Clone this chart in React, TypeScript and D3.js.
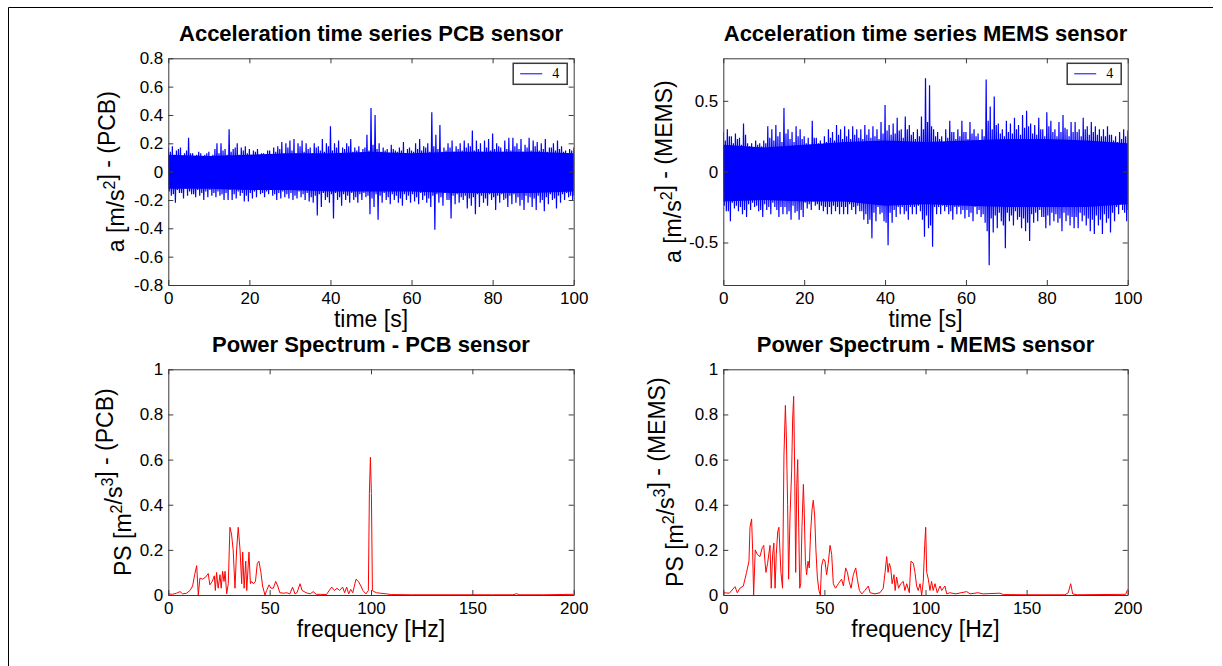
import React, { useEffect, useRef } from "react";
import * as d3 from "d3";

// time axis, one envelope bin per second [s]
const timeSec = d3.range(0, 101);
// the dense middle of each trace, read every 10 s
const coreTime = [0, 10, 20, 30, 40, 50, 60, 70, 80, 90, 100];

// PCB sensor, highest / lowest value in each 1 s bin [m/s^2]
const pcbHigh = [
  0.17, 0.18, 0.15, 0.17, 0.13, 0.24, 0.13, 0.12, 0.13, 0.12,
  0.14, 0.12, 0.2, 0.2, 0.16, 0.3, 0.16, 0.2, 0.17, 0.18,
  0.16, 0.15, 0.16, 0.13, 0.12, 0.15, 0.17, 0.18, 0.21, 0.2,
  0.22, 0.23, 0.2, 0.22, 0.2, 0.17, 0.2, 0.18, 0.23, 0.2,
  0.32, 0.2, 0.22, 0.17, 0.2, 0.23, 0.17, 0.18, 0.16, 0.26,
  0.45, 0.4, 0.2, 0.17, 0.16, 0.19, 0.15, 0.17, 0.21, 0.16,
  0.15, 0.2, 0.23, 0.18, 0.2, 0.42, 0.26, 0.33, 0.17, 0.2,
  0.22, 0.18, 0.2, 0.22, 0.2, 0.29, 0.22, 0.2, 0.22, 0.23,
  0.27, 0.2, 0.17, 0.22, 0.24, 0.24, 0.2, 0.23, 0.19, 0.24,
  0.22, 0.21, 0.2, 0.23, 0.17, 0.2, 0.22, 0.18, 0.15, 0.16, 0.17,
];
const pcbLow = [
  -0.17, -0.22, -0.15, -0.19, -0.17, -0.16, -0.18, -0.17, -0.2, -0.18,
  -0.17, -0.18, -0.17, -0.2, -0.2, -0.2, -0.19, -0.17, -0.21, -0.21,
  -0.19, -0.18, -0.16, -0.18, -0.16, -0.17, -0.2, -0.19, -0.18, -0.19,
  -0.2, -0.19, -0.18, -0.2, -0.21, -0.22, -0.31, -0.25, -0.2, -0.22,
  -0.33, -0.2, -0.24, -0.2, -0.22, -0.2, -0.22, -0.2, -0.18, -0.3,
  -0.25, -0.34, -0.22, -0.2, -0.23, -0.2, -0.22, -0.24, -0.2, -0.22,
  -0.21, -0.23, -0.2, -0.22, -0.25, -0.41, -0.22, -0.24, -0.2, -0.33,
  -0.23, -0.22, -0.2, -0.26, -0.24, -0.3, -0.25, -0.22, -0.24, -0.2,
  -0.27, -0.22, -0.2, -0.25, -0.23, -0.22, -0.24, -0.27, -0.22, -0.25,
  -0.27, -0.22, -0.28, -0.23, -0.2, -0.26, -0.22, -0.2, -0.18, -0.2, -0.17,
];
// PCB sensor, second swing in each 1 s bin
const pcbMidHigh = [
  0.14, 0.12, 0.16, 0.11, 0.15, 0.13, 0.11, 0.14, 0.1, 0.13,
  0.11, 0.16, 0.13, 0.15, 0.12, 0.14, 0.17, 0.12, 0.15, 0.13,
  0.12, 0.14, 0.11, 0.13, 0.15, 0.12, 0.14, 0.16, 0.13, 0.17,
  0.15, 0.13, 0.18, 0.14, 0.16, 0.13, 0.17, 0.15, 0.14, 0.18,
  0.15, 0.17, 0.13, 0.16, 0.18, 0.14, 0.15, 0.13, 0.17, 0.15,
  0.19, 0.16, 0.14, 0.15, 0.13, 0.16, 0.14, 0.15, 0.13, 0.17,
  0.14, 0.16, 0.15, 0.17, 0.14, 0.18, 0.16, 0.14, 0.15, 0.17,
  0.14, 0.16, 0.15, 0.17, 0.18, 0.15, 0.16, 0.14, 0.17, 0.15,
  0.16, 0.18, 0.14, 0.16, 0.15, 0.18, 0.16, 0.14, 0.17, 0.15,
  0.18, 0.15, 0.16, 0.14, 0.17, 0.15, 0.16, 0.14, 0.13, 0.15, 0.14,
];
const pcbMidLow = [
  -0.14, -0.16, -0.13, -0.15, -0.12, -0.14, -0.16, -0.13, -0.15, -0.14,
  -0.13, -0.15, -0.14, -0.16, -0.15, -0.13, -0.16, -0.14, -0.15, -0.17,
  -0.15, -0.14, -0.13, -0.15, -0.14, -0.13, -0.16, -0.15, -0.14, -0.16,
  -0.15, -0.17, -0.14, -0.16, -0.15, -0.18, -0.17, -0.16, -0.15, -0.18,
  -0.16, -0.15, -0.18, -0.16, -0.17, -0.15, -0.18, -0.16, -0.15, -0.17,
  -0.19, -0.16, -0.17, -0.15, -0.18, -0.16, -0.17, -0.19, -0.16, -0.17,
  -0.16, -0.18, -0.15, -0.17, -0.19, -0.17, -0.16, -0.18, -0.15, -0.2,
  -0.17, -0.16, -0.18, -0.17, -0.19, -0.18, -0.16, -0.17, -0.19, -0.16,
  -0.18, -0.17, -0.16, -0.19, -0.17, -0.16, -0.18, -0.2, -0.17, -0.18,
  -0.19, -0.17, -0.2, -0.18, -0.16, -0.19, -0.17, -0.16, -0.15, -0.17, -0.15,
];
const pcbCoreHigh = [0.12, 0.11, 0.12, 0.13, 0.13, 0.14, 0.13, 0.14, 0.14, 0.14, 0.13];
const pcbCoreLow = [-0.12, -0.12, -0.13, -0.13, -0.14, -0.14, -0.14, -0.15, -0.15, -0.15, -0.14];

// MEMS sensor, highest / lowest value in each 1 s bin [m/s^2]
const memsHigh = [
  0.28, 0.3, 0.25, 0.27, 0.24, 0.34, 0.2, 0.2, 0.22, 0.2,
  0.22, 0.32, 0.3, 0.33, 0.28, 0.45, 0.3, 0.28, 0.32, 0.3,
  0.25, 0.24, 0.36, 0.24, 0.22, 0.25, 0.3, 0.28, 0.33, 0.3,
  0.32, 0.3, 0.32, 0.3, 0.3, 0.33, 0.3, 0.32, 0.3, 0.35,
  0.47, 0.33, 0.34, 0.38, 0.3, 0.39, 0.33, 0.28, 0.3, 0.39,
  0.66, 0.61, 0.3, 0.28, 0.25, 0.3, 0.36, 0.28, 0.3, 0.36,
  0.28, 0.35, 0.3, 0.27, 0.3, 0.65, 0.46, 0.53, 0.34, 0.3,
  0.36, 0.34, 0.38, 0.33, 0.4, 0.43, 0.34, 0.33, 0.38, 0.3,
  0.42, 0.36, 0.3, 0.35, 0.4, 0.3, 0.35, 0.35, 0.3, 0.38,
  0.32, 0.35, 0.32, 0.3, 0.3, 0.32, 0.26, 0.25, 0.28, 0.3, 0.29,
];
const memsLow = [
  -0.28, -0.35, -0.26, -0.28, -0.3, -0.32, -0.27, -0.25, -0.28, -0.32,
  -0.27, -0.3, -0.25, -0.32, -0.3, -0.3, -0.34, -0.29, -0.34, -0.32,
  -0.26, -0.27, -0.24, -0.27, -0.28, -0.3, -0.3, -0.28, -0.3, -0.3,
  -0.3, -0.27, -0.3, -0.28, -0.34, -0.37, -0.47, -0.35, -0.3, -0.35,
  -0.52, -0.36, -0.32, -0.3, -0.3, -0.34, -0.3, -0.3, -0.28, -0.46,
  -0.4, -0.53, -0.3, -0.3, -0.28, -0.3, -0.34, -0.3, -0.3, -0.33,
  -0.32, -0.35, -0.3, -0.32, -0.36, -0.66, -0.43, -0.4, -0.35, -0.54,
  -0.35, -0.38, -0.34, -0.4, -0.42, -0.49, -0.36, -0.35, -0.32, -0.4,
  -0.38, -0.35, -0.36, -0.42, -0.35, -0.38, -0.4, -0.4, -0.35, -0.38,
  -0.42, -0.44, -0.38, -0.44, -0.36, -0.43, -0.35, -0.3, -0.27, -0.35, -0.27,
];
// MEMS sensor, second swing in each 1 s bin
const memsMidHigh = [
  0.22, 0.25, 0.2, 0.23, 0.19, 0.26, 0.18, 0.17, 0.19, 0.18,
  0.2, 0.24, 0.22, 0.25, 0.21, 0.27, 0.23, 0.21, 0.25, 0.23,
  0.2, 0.19, 0.24, 0.2, 0.19, 0.21, 0.24, 0.22, 0.26, 0.23,
  0.25, 0.23, 0.26, 0.24, 0.23, 0.26, 0.24, 0.25, 0.23, 0.27,
  0.29, 0.26, 0.27, 0.29, 0.24, 0.3, 0.26, 0.23, 0.25, 0.3,
  0.35, 0.32, 0.25, 0.23, 0.21, 0.24, 0.28, 0.23, 0.25, 0.28,
  0.23, 0.27, 0.25, 0.22, 0.25, 0.36, 0.3, 0.33, 0.27, 0.25,
  0.28, 0.27, 0.3, 0.26, 0.31, 0.32, 0.27, 0.26, 0.3, 0.25,
  0.32, 0.28, 0.25, 0.28, 0.31, 0.25, 0.28, 0.28, 0.25, 0.3,
  0.26, 0.28, 0.26, 0.25, 0.25, 0.26, 0.22, 0.21, 0.23, 0.25, 0.24,
];
const memsMidLow = [
  -0.24, -0.28, -0.22, -0.24, -0.25, -0.27, -0.23, -0.22, -0.24, -0.27,
  -0.23, -0.25, -0.22, -0.27, -0.25, -0.25, -0.28, -0.24, -0.28, -0.27,
  -0.22, -0.23, -0.21, -0.23, -0.24, -0.25, -0.25, -0.24, -0.25, -0.25,
  -0.25, -0.23, -0.25, -0.24, -0.28, -0.3, -0.34, -0.29, -0.25, -0.29,
  -0.36, -0.29, -0.27, -0.25, -0.25, -0.28, -0.25, -0.25, -0.24, -0.34,
  -0.31, -0.38, -0.25, -0.25, -0.24, -0.25, -0.28, -0.25, -0.25, -0.27,
  -0.27, -0.29, -0.25, -0.27, -0.3, -0.42, -0.33, -0.31, -0.29, -0.38,
  -0.29, -0.31, -0.28, -0.32, -0.33, -0.36, -0.3, -0.29, -0.27, -0.32,
  -0.31, -0.29, -0.3, -0.33, -0.29, -0.31, -0.32, -0.32, -0.29, -0.31,
  -0.33, -0.34, -0.31, -0.34, -0.3, -0.33, -0.29, -0.25, -0.23, -0.29, -0.23,
];
const memsCoreHigh = [0.19, 0.17, 0.19, 0.21, 0.22, 0.21, 0.22, 0.23, 0.23, 0.22, 0.2];
const memsCoreLow = [-0.21, -0.2, -0.21, -0.21, -0.24, -0.23, -0.24, -0.25, -0.25, -0.25, -0.23];

// power spectra [Hz] / [m^2/s^3]
const pcbFreq = [
  0, 2, 4, 5.8, 7, 9, 10.7, 12, 13, 14,
  14.8, 15.6, 17, 18.5, 19.7, 20.5, 21.7, 22.7, 23.2, 23.8,
  24.6, 25.5, 26.1, 26.8, 27.5, 28, 28.8, 29.6, 30.4, 31.2,
  32, 32.9, 33.7, 34.5, 35.4, 36.2, 36.7, 37.4, 38.2, 38.7,
  39.8, 40.5, 41.1, 42, 43, 43.9, 44.7, 45.7, 46.5, 47.7,
  48.5, 49.7, 50.6, 51.8, 53, 54, 55, 57, 58.4, 60,
  61.3, 62.5, 63.5, 65, 66, 68, 70, 71.5, 73, 75,
  78, 80.6, 82, 83.2, 84.5, 86, 87, 88, 89, 90,
  91, 92.6, 93.8, 95, 96, 97.5, 98.7, 99.2, 99.7, 100.2,
  100.7, 101.5, 102.8, 104.5, 107.7, 110, 120, 140, 160, 170,
  171.9, 173, 185, 200,
];
const pcbPower = [
  0.005, 0.003, 0.008, 0.015, 0.005, 0.008, 0.02, 0.04, 0.09, 0.13,
  0, 0.075, 0.07, 0.08, 0.095, 0.045, 0.06, 0.085, 0.02, 0.1,
  0.03, 0.09, 0.03, 0.105, 0.06, 0.105, 0.005, 0.05, 0.3, 0.27,
  0.2, 0.03, 0.2, 0.3, 0.2, 0.05, 0.19, 0.03, 0.15, 0.02,
  0.19, 0.05, 0.06, 0.05, 0.06, 0.14, 0.15, 0.1, 0.04, 0,
  0.02, 0.045, 0.03, 0.03, 0.06, 0.04, 0.01, 0.008, 0.01, 0.005,
  0.035, 0.005, 0.01, 0.05, 0.02, 0.01, 0.005, 0.015, 0.003, 0.003,
  0.002, 0.035, 0.02, 0.03, 0.02, 0.035, 0.01, 0.035, 0.005, 0.025,
  0.01, 0.07, 0.06, 0.04, 0.02, 0.005, 0.02, 0.45, 0.61, 0.45,
  0.02, 0.015, 0.01, 0.008, 0.005, 0.002, 0.001, 0.001, 0.001, 0.001,
  0.006, 0.001, 0.001, 0.003,
];
const memsFreq = [
  0, 3, 5.8, 6.9, 8.2, 9.9, 11.5, 12.7, 13.2, 14,
  14.5, 15, 15.8, 16.8, 18.1, 19.3, 20, 20.6, 21.1, 21.9,
  23.1, 23.7, 24.4, 25, 25.6, 26.2, 26.9, 27.5, 28, 28.5,
  29.3, 30, 30.7, 31.2, 31.8, 32.3, 33, 33.8, 34.3, 34.8,
  35.3, 35.8, 36.3, 36.8, 37.3, 37.8, 38.3, 38.9, 39.6, 40,
  40.6, 41.2, 41.9, 42.5, 43.2, 43.9, 44.5, 45.2, 45.8, 46.5,
  47.3, 48, 48.6, 49.5, 50.3, 51.1, 51.9, 52.8, 53.6, 54.4,
  55.5, 56.9, 58.5, 59.4, 60.5, 61.4, 62.2, 63.2, 64.3, 65.5,
  66.3, 67.3, 68.5, 70, 71.7, 72.6, 75, 77.5, 79.1, 80,
  80.8, 81.5, 82.1, 82.8, 83.5, 84.4, 85, 85.7, 86.7, 87.7,
  89, 89.8, 90.7, 92, 92.8, 94, 94.8, 95.6, 96.4, 97.3,
  98.1, 98.9, 99.6, 100.1, 100.6, 101.4, 102.2, 103, 103.8, 104.7,
  105.8, 107.2, 108, 109.6, 110.5, 112, 115, 120.4, 122, 126,
  128.5, 136.8, 138.5, 150, 169, 170.6, 171.8, 172.8, 175, 199,
  200,
];
const memsPower = [
  0.01, 0.008, 0.037, 0.01, 0.03, 0.04, 0.1, 0.15, 0.3, 0.337,
  0.2, 0, 0.2, 0.18, 0.17, 0.21, 0.22, 0.15, 0.1, 0.14,
  0.22, 0.03, 0.18, 0.23, 0.03, 0.18, 0.28, 0.3, 0.2, 0.1,
  0.03, 0.62, 0.84, 0.7, 0.4, 0.07, 0.35, 0.55, 0.78, 0.88,
  0.55, 0.1, 0.48, 0.6, 0.3, 0.03, 0.05, 0.3, 0.49, 0.38,
  0.15, 0.09, 0.15, 0.12, 0.28, 0.38, 0.42, 0.35, 0.2, 0.08,
  0.02, 0, 0.13, 0.16, 0.15, 0.09, 0.14, 0.22, 0.18, 0.05,
  0.03, 0.05, 0.07, 0.04, 0.12, 0.1, 0.06, 0.03, 0.09, 0.12,
  0.07, 0.02, 0.005, 0.02, 0.04, 0.01, 0.005, 0.01, 0.03, 0.1,
  0.17, 0.1, 0.14, 0.12, 0.05, 0.09, 0.02, 0.08, 0.03, 0.05,
  0.06, 0.02, 0.05, 0.01, 0.15, 0.14, 0.1, 0.04, 0.02, 0.05,
  0, 0.06, 0.22, 0.3, 0.1, 0.07, 0.02, 0.06, 0.02, 0.05,
  0.01, 0.04, 0.02, 0.04, 0.005, 0.01, 0.005, 0.015, 0.005, 0.01,
  0.005, 0.008, 0.002, 0.001, 0.001, 0.01, 0.05, 0.005, 0.001, 0.003,
  0.025,
];

const pcbAccelTicks = [-0.8, -0.6, -0.4, -0.2, 0, 0.2, 0.4, 0.6, 0.8];
const memsAccelTicks = [-0.5, 0, 0.5];
const timeTicks = [0, 20, 40, 60, 80, 100];
const freqTicks = [0, 50, 100, 150, 200];
const powerTicks = [0, 0.2, 0.4, 0.6, 0.8, 1];

const SANS = "'Liberation Sans', Arial, sans-serif";
const AXIS_COLOR = "#3a3a3a";

function drawBox(svg, p) {
  const x = d3.scaleLinear().domain(p.xDomain).range([p.left, p.right]);
  const y = d3.scaleLinear().domain(p.yDomain).range([p.bottom, p.top]);
  const g = svg.append("g");

  const clipId = "clip-" + p.id;
  g.append("clipPath").attr("id", clipId)
    .append("rect")
    .attr("x", p.left).attr("y", p.top)
    .attr("width", p.right - p.left).attr("height", p.bottom - p.top);

  const plot = g.append("g").attr("clip-path", "url(#" + clipId + ")");
  p.marks(plot, x, y);

  const styleAxis = (a, labels) => {
    a.selectAll(".domain").attr("stroke", AXIS_COLOR);
    a.selectAll(".tick line").attr("stroke", AXIS_COLOR);
    a.attr("font-family", SANS).attr("font-size", 17);
    a.selectAll(".tick text").attr("fill", "#000");
    if (!labels) a.selectAll(".tick text").remove();
  };

  g.append("g").attr("transform", `translate(0,${p.bottom})`)
    .call(d3.axisBottom(x).tickValues(p.xTicks).tickSizeInner(-5).tickSizeOuter(0).tickPadding(7).tickFormat(d => String(d)))
    .call(a => styleAxis(a, true));
  g.append("g").attr("transform", `translate(0,${p.top})`)
    .call(d3.axisTop(x).tickValues(p.xTicks).tickSizeInner(-5).tickSizeOuter(0))
    .call(a => styleAxis(a, false));
  g.append("g").attr("transform", `translate(${p.left},0)`)
    .call(d3.axisLeft(y).tickValues(p.yTicks).tickSizeInner(-5).tickSizeOuter(0).tickPadding(5).tickFormat(d => String(d)))
    .call(a => styleAxis(a, true));
  g.append("g").attr("transform", `translate(${p.right},0)`)
    .call(d3.axisRight(y).tickValues(p.yTicks).tickSizeInner(-5).tickSizeOuter(0))
    .call(a => styleAxis(a, false));

  // title
  const cx = (p.left + p.right) / 2;
  g.append("text")
    .attr("x", cx).attr("y", p.top - 17)
    .attr("text-anchor", "middle")
    .attr("font-family", SANS).attr("font-weight", "bold").attr("font-size", 22)
    .text(p.title);

  // x label
  g.append("text")
    .attr("x", cx).attr("y", p.bottom + 42)
    .attr("text-anchor", "middle")
    .attr("font-family", SANS).attr("font-size", 23)
    .text(p.xLabel);

  // y label with superscripts
  const cy = (p.top + p.bottom) / 2;
  const yl = g.append("text")
    .attr("transform", `translate(${p.left - p.yLabelGap},${cy}) rotate(-90)`)
    .attr("text-anchor", "middle")
    .attr("font-family", SANS).attr("font-size", 23);
  p.yLabel.forEach(part => {
    if (part.sup) {
      yl.append("tspan").attr("dy", -9).attr("font-size", 16).text(part.text);
      yl.append("tspan").attr("dy", 9).text("");
    } else {
      yl.append("tspan").text(part.text);
    }
  });

  // legend
  if (p.legend) {
    const lx = p.right - 60.5, ly = p.top + 5;
    g.append("rect")
      .attr("x", lx).attr("y", ly).attr("width", 54).attr("height", 21)
      .attr("fill", "#fff").attr("stroke", AXIS_COLOR).attr("stroke-width", 1.5);
    g.append("line")
      .attr("x1", lx + 7).attr("x2", lx + 29)
      .attr("y1", ly + 10.5).attr("y2", ly + 10.5)
      .attr("stroke", p.legendColor).attr("stroke-width", 1);
    g.append("text")
      .attr("x", lx + 39).attr("y", ly + 15)
      .attr("font-family", "'Liberation Serif', 'Times New Roman', serif").attr("font-size", 14)
      .text(p.legend);
  }
}

function traceMarks(s) {
  return (plot, x, y) => {
    const core = d3.area()
      .x((d, i) => x(coreTime[i]))
      .y0((d, i) => y(s.coreLow[i]))
      .y1((d, i) => y(s.coreHigh[i]));
    plot.append("path").datum(coreTime).attr("d", core).attr("fill", "#0000ff");

    // the trace swings through the four values of each 1 s bin
    const pts = [];
    timeSec.forEach((t, i) => {
      pts.push([t, s.high[i]]);
      pts.push([Math.min(t + 0.25, 100), s.midLow[i]]);
      pts.push([Math.min(t + 0.5, 100), s.midHigh[i]]);
      pts.push([Math.min(t + 0.75, 100), s.low[i]]);
    });
    const line = d3.line().x(d => x(d[0])).y(d => y(d[1]));
    plot.append("path").datum(pts).attr("d", line)
      .attr("fill", "none").attr("stroke", "#0000ff").attr("stroke-width", 1.2);
  };
}

function spectrumMarks(freq, power) {
  return (plot, x, y) => {
    const line = d3.line().x((d, i) => x(freq[i])).y(d => y(d));
    plot.append("path").datum(power).attr("d", line)
      .attr("fill", "none").attr("stroke", "#ff0000").attr("stroke-width", 1);
  };
}

export default function App() {
  const ref = useRef(null);

  useEffect(() => {
    const svg = d3.select(ref.current);
    svg.selectAll("*").remove();

    svg.append("rect").attr("width", 1222).attr("height", 666).attr("fill", "#fff");
    // figure frame
    svg.append("path").attr("d", "M8.5,666 V7.5 H1213")
      .attr("fill", "none").attr("stroke", "#000").attr("stroke-width", 1);

    const cols = [{ left: 168.3, right: 573.7 }, { left: 723.3, right: 1127.7 }];
    const rows = [{ top: 58.3, bottom: 285 }, { top: 369.3, bottom: 595 }];

    drawBox(svg, {
      id: "pcb-t", ...cols[0], ...rows[0],
      xDomain: [0, 100], yDomain: [-0.8, 0.8], xTicks: timeTicks, yTicks: pcbAccelTicks,
      title: "Acceleration time series PCB sensor", xLabel: "time [s]",
      yLabel: [{ text: "a [m/s" }, { text: "2", sup: true }, { text: "] - (PCB)" }], yLabelGap: 44,
      legend: "4", legendColor: "#0000ff",
      marks: traceMarks({ high: pcbHigh, low: pcbLow, midHigh: pcbMidHigh, midLow: pcbMidLow, coreHigh: pcbCoreHigh, coreLow: pcbCoreLow }),
    });
    drawBox(svg, {
      id: "mems-t", ...cols[1], ...rows[0],
      xDomain: [0, 100], yDomain: [-0.8, 0.8], xTicks: timeTicks, yTicks: memsAccelTicks,
      title: "Acceleration time series MEMS sensor", xLabel: "time [s]",
      yLabel: [{ text: "a [m/s" }, { text: "2", sup: true }, { text: "] - (MEMS)" }], yLabelGap: 42,
      legend: "4", legendColor: "#0000ff",
      marks: traceMarks({ high: memsHigh, low: memsLow, midHigh: memsMidHigh, midLow: memsMidLow, coreHigh: memsCoreHigh, coreLow: memsCoreLow }),
    });
    drawBox(svg, {
      id: "pcb-f", ...cols[0], ...rows[1],
      xDomain: [0, 200], yDomain: [0, 1], xTicks: freqTicks, yTicks: powerTicks,
      title: "Power Spectrum - PCB sensor", xLabel: "frequency [Hz]",
      yLabel: [{ text: "PS [m" }, { text: "2", sup: true }, { text: "/s" }, { text: "3", sup: true }, { text: "] - (PCB)" }], yLabelGap: 37,
      marks: spectrumMarks(pcbFreq, pcbPower),
    });
    drawBox(svg, {
      id: "mems-f", ...cols[1], ...rows[1],
      xDomain: [0, 200], yDomain: [0, 1], xTicks: freqTicks, yTicks: powerTicks,
      title: "Power Spectrum - MEMS sensor", xLabel: "frequency [Hz]",
      yLabel: [{ text: "PS [m" }, { text: "2", sup: true }, { text: "/s" }, { text: "3", sup: true }, { text: "] - (MEMS)" }], yLabelGap: 40,
      marks: spectrumMarks(memsFreq, memsPower),
    });
  }, []);

  return (
    <div style={{ position: "absolute", left: 0, top: 0 }}>
      <svg ref={ref} width={1222} height={666} style={{ display: "block" }} />
    </div>
  );
}
